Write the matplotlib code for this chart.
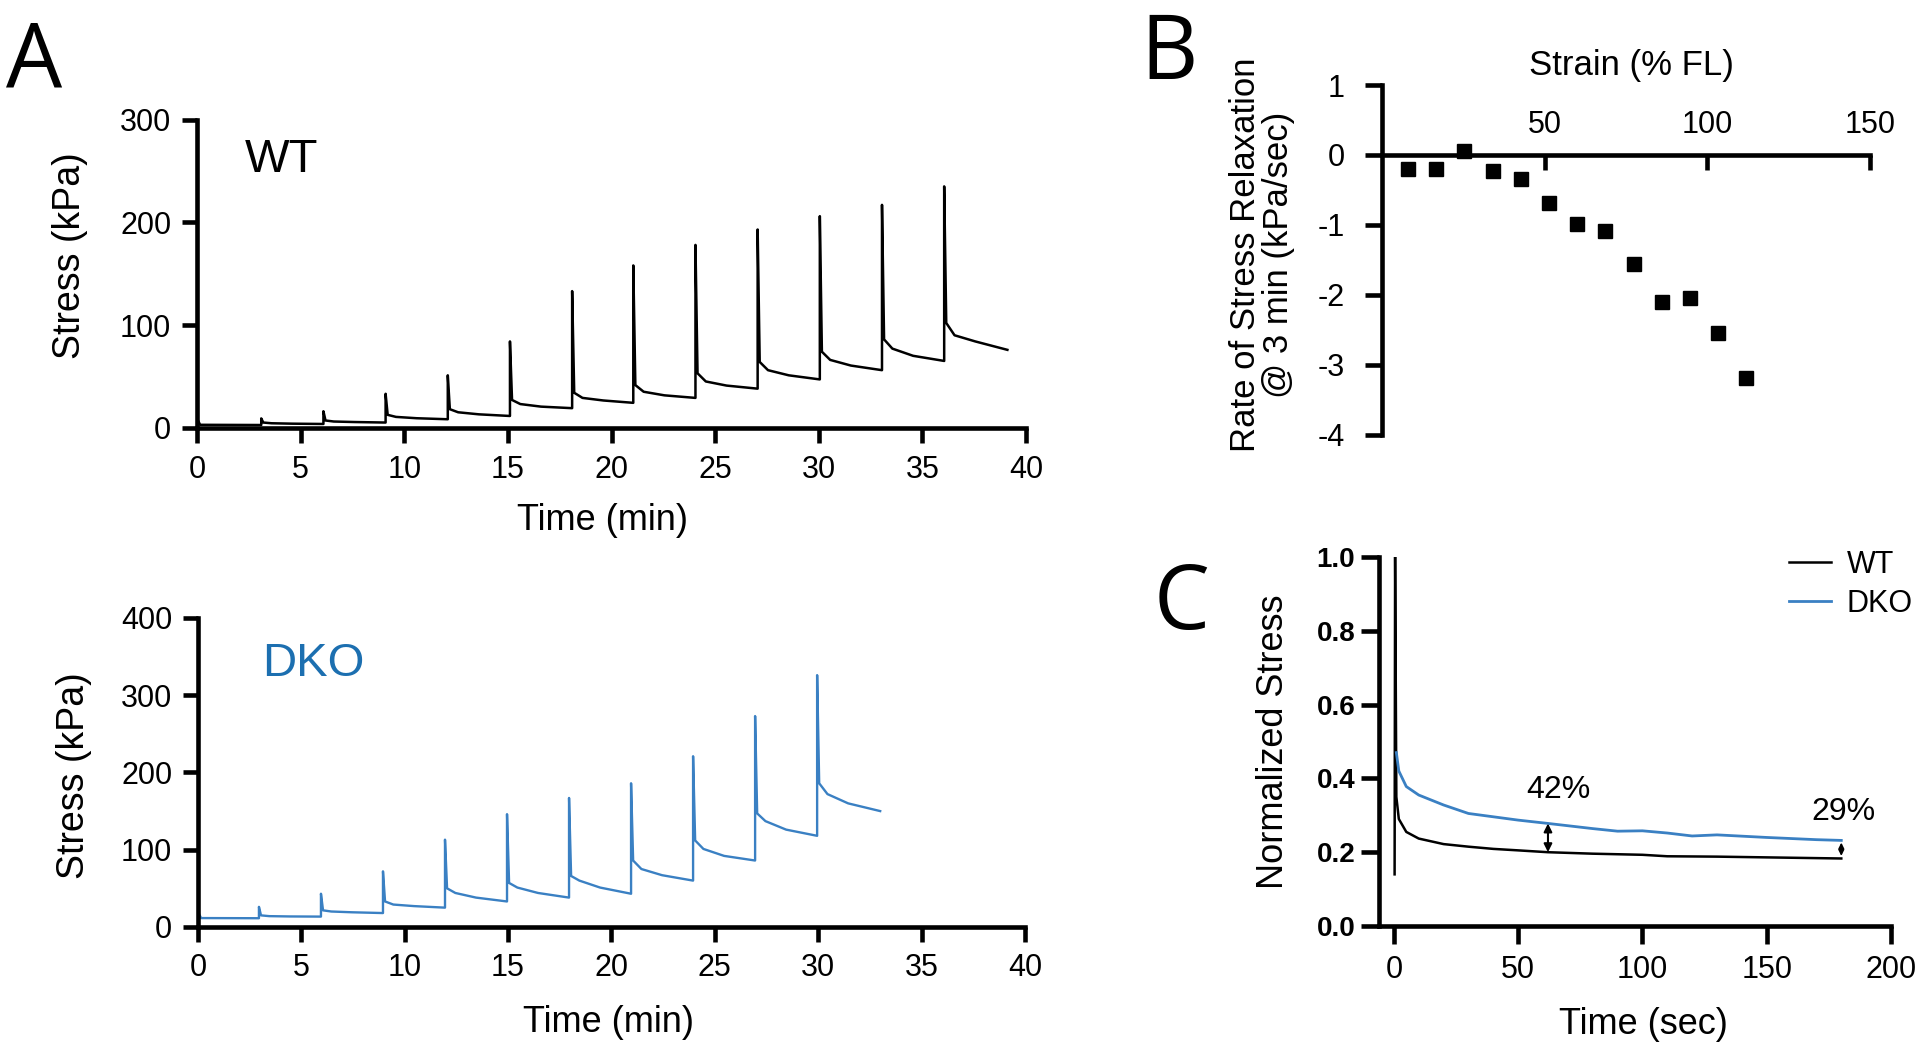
import matplotlib
matplotlib.use("Agg")
import matplotlib.pyplot as plt

plt.rcParams['font.family'] = ['Liberation Sans', 'DejaVu Sans']
plt.rcParams['axes.unicode_minus'] = False

BLUE = '#3a80c3'

# ---- Panel A, WT: step-relaxation trace (values read per step) ----
wt_pre_t = [0.0, 0.05, 0.15, 3.1]
wt_pre_v = [1.5, 7.0, 2.8, 2.6]
wt_t0 = [3.1, 6.1, 9.1, 12.1, 15.1, 18.1, 21.05, 24.05, 27.05, 30.05, 33.05, 36.05]
wt_peak = [9, 16, 33, 51, 84, 133, 158, 178, 193, 206, 217, 235]
wt_a = [5, 7, 12.5, 18, 27, 34, 41.5, 53, 64, 74, 86, 102]      # +0.1 min
wt_b = [4.3, 6, 10.5, 15, 23, 29, 35, 45, 56, 66, 77, 90]       # +0.5 min
wt_c = [3.9, 5.5, 9.2, 13, 20.5, 26.5, 31.5, 41, 51, 60.5, 70, 84]  # +1.5 min
wt_d = [3.6, 5, 8.2, 11.4, 19, 24.2, 29, 38, 47, 56, 65, 75.8]  # end of step
wt_t_end = 39.1

# ---- Panel A, DKO ----
dko_pre_t = [0.0, 0.05, 0.15, 2.95]
dko_pre_v = [10, 17, 11.5, 11.3]
dko_t0 = [2.95, 5.95, 8.95, 11.95, 14.95, 17.95, 20.95, 23.95, 26.95, 29.95]
dko_peak = [26, 43, 72, 113, 146, 167, 186, 221, 273, 326]
dko_a = [15, 21.5, 33, 50, 57, 66, 86, 112, 147, 186]
dko_b = [14, 20, 29, 44, 51, 60, 75, 101, 137, 172]
dko_c = [13.6, 19, 27, 38, 44, 51, 67, 92, 126, 160]
dko_d = [13.4, 18, 25, 33, 38, 43, 60, 86, 118, 150]
dko_t_end = 33.0

# ---- Panel B ----
strain = [8.0, 16.7, 25.3, 34.0, 42.7, 51.2, 59.8, 68.6, 77.3, 85.9, 94.7, 103.2, 111.8]
rate = [-0.2, -0.2, 0.06, -0.23, -0.35, -0.68, -0.98, -1.08, -1.56, -2.1, -2.05, -2.55, -3.18]

# ---- Panel C ----
c_wt_t = [0.3, 0.5, 1.0, 2, 5, 10, 20, 30, 40, 50, 62, 80, 100, 110, 130, 150, 180]
c_wt_v = [0.14, 1.01, 0.35, 0.29, 0.255, 0.237, 0.222, 0.215, 0.209, 0.205, 0.2,
          0.196, 0.193, 0.189, 0.188, 0.186, 0.183]
c_dko_t = [1, 2, 5, 10, 20, 30, 40, 50, 62, 80, 90, 100, 110, 120, 130, 150, 170, 180]
c_dko_v = [0.47, 0.42, 0.378, 0.355, 0.328, 0.305, 0.296, 0.287, 0.278, 0.264, 0.257,
           0.258, 0.252, 0.244, 0.247, 0.24, 0.234, 0.232]


def build_trace(pre_t, pre_v, t0, peak, a, b, c, d, t_end):
    t = list(pre_t)
    v = list(pre_v)
    for i in range(len(t0)):
        te = t0[i + 1] if i + 1 < len(t0) else t_end
        s = t0[i]
        t += [s, s + 0.1, s + 0.5, s + 1.5, te]
        v += [peak[i], a[i], b[i], c[i], d[i]]
    return t, v


def style(ax, lw=3.3, length=10.5):
    for s in ['left', 'bottom', 'top', 'right']:
        ax.spines[s].set_linewidth(lw)
    ax.tick_params(width=lw, length=length)


def place_labels(ax, xpos, ypos):
    ax.xaxis.set_label_coords(*xpos)
    ax.yaxis.set_label_coords(*ypos)
    ax.xaxis.label.set_verticalalignment('center')
    ax.yaxis.label.set_verticalalignment('center')


fig = plt.figure(figsize=(19.2, 10.56), dpi=100)

# ---------- A: WT ----------
ax1 = fig.add_axes([0.1026, 0.595, 0.4318, 0.2917])
t, v = build_trace(wt_pre_t, wt_pre_v, wt_t0, wt_peak, wt_a, wt_b, wt_c, wt_d, wt_t_end)
ax1.plot(t, v, color='black', lw=1.8)
ax1.set_xlim(0, 40)
ax1.set_ylim(0, 300)
ax1.set_xticks(range(0, 41, 5))
ax1.set_yticks([0, 100, 200, 300])
ax1.spines['top'].set_visible(False)
ax1.spines['right'].set_visible(False)
style(ax1)
ax1.tick_params(labelsize=22)
ax1.tick_params(axis='x', pad=9)
ax1.tick_params(axis='y', pad=8)
ax1.set_xlabel('Time (min)', fontsize=26)
ax1.set_ylabel('Stress (kPa)', fontsize=27)
place_labels(ax1, (0.489, -0.30), (-0.153, 0.56))
ax1.text(4.1, 261, 'WT', fontsize=34, ha='center', va='center')

# ---------- A: DKO ----------
ax2 = fig.add_axes([0.1031, 0.1222, 0.4307, 0.2926])
t, v = build_trace(dko_pre_t, dko_pre_v, dko_t0, dko_peak, dko_a, dko_b, dko_c, dko_d, dko_t_end)
ax2.plot(t, v, color=BLUE, lw=1.7)
ax2.set_xlim(0, 40)
ax2.set_ylim(0, 400)
ax2.set_xticks(range(0, 41, 5))
ax2.set_yticks([0, 100, 200, 300, 400])
ax2.spines['top'].set_visible(False)
ax2.spines['right'].set_visible(False)
style(ax2)
ax2.tick_params(labelsize=22)
ax2.tick_params(axis='x', pad=8)
ax2.tick_params(axis='y', pad=8)
ax2.set_xlabel('Time (min)', fontsize=26)
ax2.set_ylabel('Stress (kPa)', fontsize=27)
place_labels(ax2, (0.497, -0.31), (-0.15, 0.49))
ax2.text(5.56, 341, 'DKO', fontsize=34, ha='center', va='center', color='#1c6fb0')

# ---------- B ----------
ax3 = fig.add_axes([0.7198, 0.5881, 0.2542, 0.3314])
ax3.plot(strain, rate, 's', color='black', ms=9.5)
ax3.set_xlim(0, 150)
ax3.set_ylim(-4, 1)
ax3.spines['bottom'].set_visible(False)
ax3.spines['right'].set_visible(False)
ax3.spines['top'].set_position(('data', 0))
ax3.xaxis.tick_top()
ax3.xaxis.set_label_position('top')
ax3.set_xticks([50, 100, 150])
ax3.set_yticks([1, 0, -1, -2, -3, -4])
style(ax3, length=12)
ax3.tick_params(axis='x', direction='in', length=10.5, pad=11)
ax3.tick_params(axis='y', pad=15)
ax3.tick_params(labelsize=22)
ax3.set_xlabel('Strain (% FL)', fontsize=25)
ax3.set_ylabel('Rate of Stress Relaxation\n@ 3 min (kPa/sec)', fontsize=25, linespacing=1.0)
place_labels(ax3, (0.512, 1.055), (-0.245, 0.514))

# ---------- C ----------
ax4 = fig.add_axes([0.7182, 0.1231, 0.2667, 0.3494])
ax4.plot(c_wt_t, c_wt_v, color='black', lw=1.8, label='WT')
ax4.plot(c_dko_t, c_dko_v, color=BLUE, lw=2.0, label='DKO')
ax4.set_xlim(-6, 200)
ax4.set_ylim(0, 1.0)
ax4.set_xticks([0, 50, 100, 150, 200])
ax4.set_yticks([0.0, 0.2, 0.4, 0.6, 0.8, 1.0])
ax4.set_yticklabels(['0.0', '0.2', '0.4', '0.6', '0.8', '1.0'], fontweight='bold')
ax4.spines['top'].set_visible(False)
ax4.spines['right'].set_visible(False)
style(ax4, length=13)
ax4.tick_params(axis='x', labelsize=22, pad=8)
ax4.tick_params(axis='y', labelsize=20, pad=4)
ax4.set_xlabel('Time (sec)', fontsize=26)
ax4.set_ylabel('Normalized Stress', fontsize=26)
place_labels(ax4, (0.516, -0.268), (-0.205, 0.499))
ax4.annotate('', xy=(62, 0.2), xytext=(62, 0.278),
             arrowprops=dict(arrowstyle='<|-|>', color='black', lw=1.5,
                             mutation_scale=12, shrinkA=0, shrinkB=0))
ax4.annotate('', xy=(180, 0.19), xytext=(180, 0.226),
             arrowprops=dict(arrowstyle='<|-|>', color='black', lw=1.2,
                             mutation_scale=8, shrinkA=0, shrinkB=0))
ax4.text(66, 0.369, '42%', fontsize=23, ha='center', va='center')
ax4.text(180.7, 0.309, '29%', fontsize=23, ha='center', va='center')
ax4.legend(loc='upper left', bbox_to_anchor=(0.80, 1.02), frameon=False, fontsize=22,
           handlelength=1.4, handletextpad=0.5, labelspacing=0.3,
           borderpad=0, borderaxespad=0)

# panel letters
fig.text(34 / 1920, 1 - 63 / 1056, 'A', fontsize=64, ha='center', va='center', family='Open Sans')
fig.text(1169 / 1920, 1 - 56 / 1056, 'B', fontsize=64, ha='center', va='center', family='Open Sans')
fig.text(1182 / 1920, 1 - 606 / 1056, 'C', fontsize=64, ha='center', va='center', family='Open Sans')

fig.savefig('out.png', dpi=100)
